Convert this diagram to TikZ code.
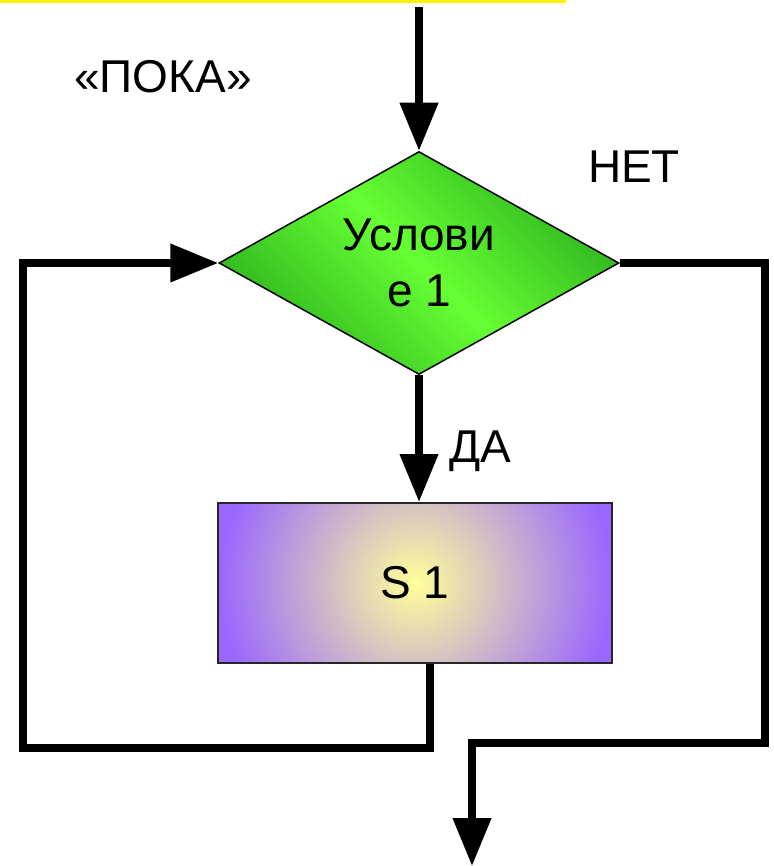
\documentclass[tikz,border=0pt]{standalone}
\usepackage{fontspec}
\setmainfont{Liberation Sans}
\usetikzlibrary{shapes.geometric,arrows.meta,calc}
\definecolor{gdark}{HTML}{2EB51E}
\definecolor{glight}{HTML}{66FF33}
\definecolor{pviolet}{HTML}{9966FF}
\definecolor{pyellow}{HTML}{FFFF99}
\begin{document}
\begin{tikzpicture}[x=1pt,y=-1pt,
  bigfont/.style={font=\fontsize{46}{56}\selectfont},
  flow/.style={line width=7.5pt, line join=miter, -{Triangle[length=48pt,width=37pt]}},
  plain/.style={line width=7.5pt, line join=miter},
  lbl/.style={bigfont, inner sep=0pt},
  cond/.style={diamond, aspect=1.8, draw=black, line width=1.5pt, minimum width=400pt,
    minimum height=223pt, inner sep=0pt, align=center, bigfont,
    top color=gdark, bottom color=gdark, middle color=glight, shading angle=-45},
  act/.style={rectangle, draw=black!85, line width=2pt, minimum width=394pt,
    minimum height=160pt, inner sep=0pt, bigfont, fill=pviolet,
    path picture={\shade[inner color=pyellow, outer color=pviolet]
      ([shift={(-197pt,-197pt)}]path picture bounding box.center) rectangle
      ([shift={(197pt,197pt)}]path picture bounding box.center);}}
]
\useasboundingbox (0,0) rectangle (773,866);
\fill[yellow] (0,0) rectangle (566,3.5);
\node[cond] (d) at (419,263) {Услови\\е 1};
\node[act] (s) at (415,583) {S 1};
\coordinate (start) at (419,7);
\coordinate (out) at (472,866);
\draw[flow] (start) -- (d.north);
\draw[flow] (d.south) -- (d.south |- s.north);
\draw[flow] ([xshift=15pt]s.south) |- (23,748) |- (d.west);
\draw[flow] (d.east) -| (765,743) -| (out);
\node[lbl, anchor=base] (poka) at (163,93) {«ПОКА»};
\node[lbl, anchor=base] (net) at (634,183) {НЕТ};
\node[lbl, anchor=base] (da) at (480,462) {ДА};
\end{tikzpicture}
\end{document}
